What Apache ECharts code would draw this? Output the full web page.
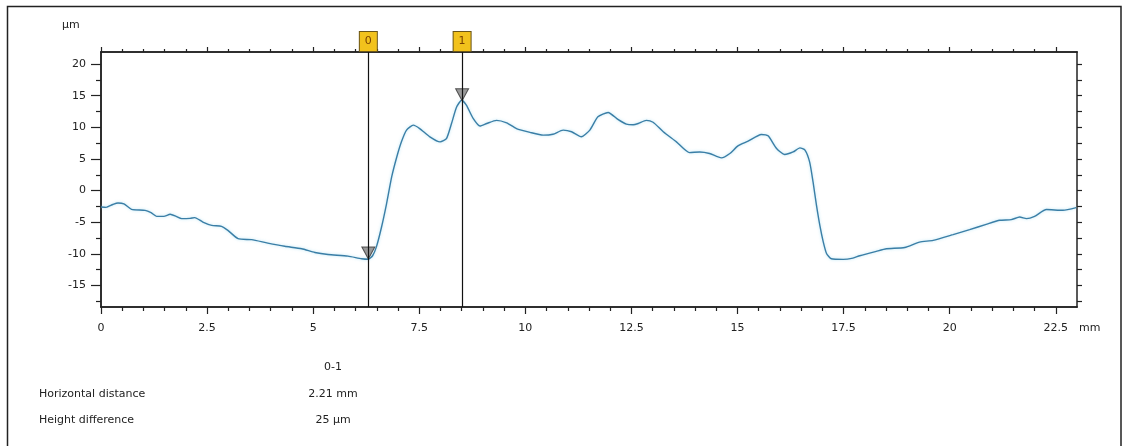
<!DOCTYPE html>
<html>
<head>
<meta charset="utf-8">
<script src="https://cdn.jsdelivr.net/npm/echarts@6/dist/echarts.min.js"></script>
<style>
  html, body { margin: 0; padding: 0; background: #fff; }
  #root { width: 1122px; height: 446px; }
</style>
</head>
<body>
<div id="root"></div>
<script>
// profile: position (mm) / height (µm)
const positionsMm = [0, 0.12, 0.28, 0.40, 0.54, 0.72, 1.04, 1.18, 1.31, 1.48, 1.63, 1.77, 1.90, 2.10, 2.21, 2.40, 2.61, 2.84, 2.99, 3.23, 3.55, 3.93, 4.33, 4.73, 5.04, 5.35, 5.82, 6.14, 6.30, 6.40, 6.49, 6.61, 6.73, 6.85, 6.97, 7.08, 7.20, 7.36, 7.51, 7.75, 7.99, 8.14, 8.26, 8.38, 8.50, 8.61, 8.77, 8.93, 9.09, 9.32, 9.56, 9.79, 10.11, 10.42, 10.65, 10.89, 11.09, 11.32, 11.52, 11.71, 11.95, 12.19, 12.38, 12.54, 12.66, 12.85, 13.01, 13.25, 13.56, 13.87, 14.11, 14.34, 14.62, 14.82, 15.01, 15.25, 15.56, 15.72, 15.92, 16.11, 16.31, 16.47, 16.59, 16.70, 16.78, 16.86, 16.94, 17.02, 17.10, 17.21, 17.49, 17.72, 17.88, 18.27, 18.51, 18.94, 19.29, 19.61, 20.08, 20.47, 20.86, 21.18, 21.45, 21.65, 21.81, 22.00, 22.28, 22.67, 22.98]
const heightsUm = [-2.6, -2.65, -2.2, -1.96, -2.1, -2.96, -3.12, -3.5, -4.07, -4.07, -3.75, -4.07, -4.43, -4.39, -4.28, -4.97, -5.5, -5.65, -6.29, -7.6, -7.76, -8.3, -8.8, -9.2, -9.78, -10.1, -10.36, -10.77, -10.85, -10.3, -8.9, -5.8, -2.06, 2.15, 5.3, 7.7, 9.55, 10.34, 9.8, 8.5, 7.7, 8.2, 10.6, 13.2, 14.3, 13.5, 11.4, 10.2, 10.6, 11.1, 10.7, 9.8, 9.2, 8.76, 8.9, 9.55, 9.3, 8.5, 9.55, 11.66, 12.35, 11.2, 10.5, 10.4, 10.6, 11.1, 10.8, 9.3, 7.7, 6.0, 6.1, 5.86, 5.17, 5.86, 7.06, 7.8, 8.87, 8.65, 6.65, 5.7, 6.1, 6.75, 6.4, 4.5, 1.36, -2.3, -5.5, -8.1, -9.98, -10.77, -10.88, -10.67, -10.3, -9.6, -9.2, -9.0, -8.14, -7.87, -6.97, -6.18, -5.34, -4.7, -4.6, -4.18, -4.43, -4.07, -3.0, -3.12, -2.7]

// cursors
const cursorNames = ['0', '1']
const cursorPosMm = [6.30, 8.51]
const cursorHeightUm = [-10.8, 14.2]

// axis ticks
const xMajorTicks = [0, 2.5, 5, 7.5, 10, 12.5, 15, 17.5, 20, 22.5]
const xMinorTicks = [0.5, 1, 1.5, 2, 3, 3.5, 4, 4.5, 5.5, 6, 6.5, 7, 8, 8.5, 9, 9.5, 10.5, 11, 11.5, 12, 13, 13.5, 14, 14.5, 15.5, 16, 16.5, 17, 18, 18.5, 19, 19.5, 20.5, 21, 21.5, 22]
const yMajorTicks = [-15, -10, -5, 0, 5, 10, 15, 20]
const yMinorTicks = [-17.5, -12.5, -7.5, -2.5, 2.5, 7.5, 12.5, 17.5]
const yRightTicks = [-17.5, -15, -12.5, -10, -7.5, -5, -2.5, 0, 2.5, 5, 7.5, 10, 12.5, 15, 17.5, 20]

const X_MIN = 0, X_MAX = 23
const Y_MIN = -18.4, Y_MAX = 21.9

const FONT = 'DejaVu Sans'
const INK = '#222'

const chart = echarts.init(document.getElementById('root'))

function xAxisDef(pos, ticks, len, withLabels) {
  return {
    type: 'value', position: pos, min: X_MIN, max: X_MAX,
    axisLine: { show: true, onZero: false, lineStyle: { color: INK, width: 1.5 } },
    axisTick: { show: true, customValues: ticks, length: len, lineStyle: { color: INK, width: 1.2 } },
    axisLabel: withLabels ? {
      show: true, customValues: ticks, margin: 16, color: INK,
      fontFamily: FONT, fontSize: 11
    } : { show: false },
    splitLine: { show: false }
  }
}

function yAxisDef(pos, ticks, len, withLabels) {
  return {
    type: 'value', position: pos, min: Y_MIN, max: Y_MAX,
    axisLine: { show: true, onZero: false, lineStyle: { color: INK, width: 1.5 } },
    axisTick: { show: true, customValues: ticks, length: len, lineStyle: { color: INK, width: 1.2 } },
    axisLabel: withLabels ? {
      show: true, customValues: ticks, margin: 15, color: INK,
      fontFamily: FONT, fontSize: 11
    } : { show: false },
    splitLine: { show: false }
  }
}

const profile = positionsMm.map((x, i) => [x, heightsUm[i]])
const cursorPts = cursorPosMm.map((x, i) => [x, cursorHeightUm[i]])

const hDist = (cursorPosMm[1] - cursorPosMm[0]).toFixed(2)
const hDiff = Math.round(cursorHeightUm[1] - cursorHeightUm[0])

const txt = (text, x, y, align) => ({
  type: 'text', x, y,
  style: { text, fill: INK, font: '11px "' + FONT + '"', align: align || 'left', verticalAlign: 'middle' }
})

chart.setOption({
  animation: false,
  backgroundColor: '#fff',
  grid: { left: 101, top: 52, width: 976, height: 255, containLabel: false },
  xAxis: [
    xAxisDef('bottom', xMajorTicks, 7, true),
    xAxisDef('bottom', xMinorTicks, 4, false),
    xAxisDef('top', xMajorTicks, 5, false),
    xAxisDef('top', xMinorTicks, 3, false)
  ],
  yAxis: [
    yAxisDef('left', yMajorTicks, 10, true),
    yAxisDef('left', yMinorTicks, 5, false),
    yAxisDef('right', yRightTicks, 5, false)
  ],
  series: [
    {
      type: 'line',
      data: profile,
      xAxisIndex: 0, yAxisIndex: 0,
      showSymbol: false,
      smooth: 0.2,
      lineStyle: { color: '#3a7ea6', width: 1.4, shadowColor: 'rgba(150,215,240,0.7)', shadowBlur: 3 },
      z: 2
    },
    {
      type: 'scatter',
      data: cursorPts,
      xAxisIndex: 0, yAxisIndex: 0,
      symbol: 'triangle',
      symbolRotate: 180,
      symbolSize: [13, 12],
      symbolOffset: [0, -6],
      itemStyle: { color: '#808080', borderColor: '#333', borderWidth: 1 },
      z: 4,
      markLine: {
        silent: true,
        symbol: ['none', 'none'],
        lineStyle: { color: '#111', width: 1.2, type: 'solid' },
        label: {
          show: true, position: 'end', distance: 1,
          formatter: p => p.name,
          backgroundColor: '#f2c21c', borderColor: '#6a5518', borderWidth: 1,
          padding: [3, 5, 3, 5], color: '#7a4200',
          fontFamily: FONT, fontSize: 11, lineHeight: 13
        },
        data: cursorPosMm.map((x, i) => ({ name: cursorNames[i], xAxis: x }))
      }
    }
  ],
  graphic: [
    { type: 'rect', shape: { x: 7.5, y: 6.5, width: 1113.5, height: 460 }, style: { fill: null, stroke: INK, lineWidth: 1.5 }, silent: true },
    txt('µm', 62, 25),
    txt('mm', 1079, 328),
    txt('0-1', 333, 367, 'center'),
    txt('Horizontal distance', 39, 394),
    txt(hDist + ' mm', 333, 394, 'center'),
    txt('Height difference', 39, 420),
    txt(hDiff + ' µm', 333, 420, 'center')
  ]
})
</script>
</body>
</html>
